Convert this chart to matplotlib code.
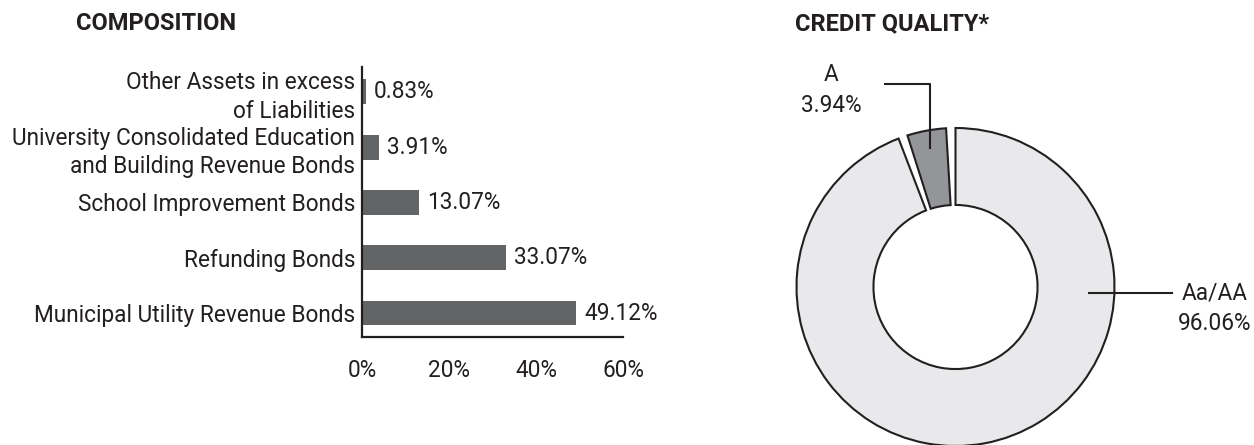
import matplotlib
matplotlib.use("Agg")
import matplotlib.pyplot as plt
import numpy as np

plt.rcParams['font.family'] = ['Roboto', 'DejaVu Sans']

# ---- data ----
categories = ["Municipal Utility Revenue Bonds", "Refunding Bonds",
              "School Improvement Bonds",
              "University Consolidated Education\nand Building Revenue Bonds",
              "Other Assets in excess\nof Liabilities"]
values = [49.12, 33.07, 13.07, 3.91, 0.83]
xticks = [0, 20, 40, 60]
xtick_labels = ["0%", "20%", "40%", "60%"]

credit_labels = ["Aa/AA", "A"]
credit_values = [96.06, 3.94]

W, H = 1254, 445
fig = plt.figure(figsize=(W / 100, H / 100), dpi=100)

TXT = "#231F20"
BAR = "#636466"
FS = 16.3

# ---- bar chart ----
x0, x1 = 362, 623
ytop, ybot = 67, 337
ax = fig.add_axes([x0 / W, 1 - ybot / H, (x1 - x0) / W, (ybot - ytop) / H])
ypos = np.arange(len(categories))
bars = ax.barh(ypos, values, height=0.45, color=BAR)
ax.set_xlim(0, 60)
ax.set_ylim(-0.434, 4.45)
ax.set_yticks(ypos)
ax.set_yticklabels(categories, fontsize=FS, color=TXT, linespacing=1.3)
ax.set_xticks(xticks)
ax.set_xticklabels(xtick_labels, fontsize=FS, color=TXT)
ax.tick_params(axis='both', length=0)
ax.tick_params(axis='y', pad=5)
ax.tick_params(axis='x', pad=16)
for s in ["top", "right"]:
    ax.spines[s].set_visible(False)
for s in ["left", "bottom"]:
    ax.spines[s].set_linewidth(1.6)
    ax.spines[s].set_color(TXT)
ax.bar_label(bars, labels=[f"{v:.2f}%" for v in values], padding=6,
             fontsize=FS, color=TXT)

fig.text(76 / W, 1 - 24 / H, "COMPOSITION", fontsize=17, fontweight='bold',
         color=TXT, ha='left', va='center')

# ---- donut ----
cx, cy, R = 955.5, 287, 159
half_w = 300
ax2 = fig.add_axes([(cx - half_w) / W, 0, 2 * half_w / W, 1])
wedges, _ = ax2.pie(credit_values, startangle=90, counterclock=False,
                    colors=["#E9E9EB", "#939598"],
                    wedgeprops=dict(width=0.484, edgecolor=TXT, linewidth=1.5))
# separate the slices with small angular gaps
gap = 3.4
big, small = wedges
small.set_theta1(small.theta1 + gap)
small.set_theta2(small.theta2 + gap)
big.set_theta1(big.theta1 + 2 * gap)
ax2.set_xlim(-half_w / R, half_w / R)
ax2.set_ylim(-(H - cy) / R, cy / R)
ax2.set_aspect('auto')
ax2.axis('off')

# leader for A
mid = np.deg2rad((small.theta1 + small.theta2) / 2)
rin = 0.885
px, py = rin * np.cos(mid), rin * np.sin(mid)
ly = (cy - 84) / R
lx_end = (884 - cx) / R
ax2.plot([px, px, lx_end], [py, ly, ly], color=TXT, lw=1.5, solid_capstyle='butt')
ax2.text((831 - cx) / R, (cy - 90) / R, "A\n3.94%", fontsize=FS, color=TXT,
         ha='center', va='center', linespacing=1.4)

# leader for Aa/AA
ay = (cy - 293) / R
ax2.plot([(1089 - cx) / R, (1172 - cx) / R], [ay, ay], color=TXT, lw=1.5)
ax2.text((1214.5 - cx) / R, (cy - 308) / R, "Aa/AA\n96.06%", fontsize=FS,
         color=TXT, ha='center', va='center', linespacing=1.4)

fig.text(795 / W, 1 - 24 / H, "CREDIT QUALITY*", fontsize=17, fontweight='bold',
         color=TXT, ha='left', va='center')

fig.savefig("out.png", dpi=100)
